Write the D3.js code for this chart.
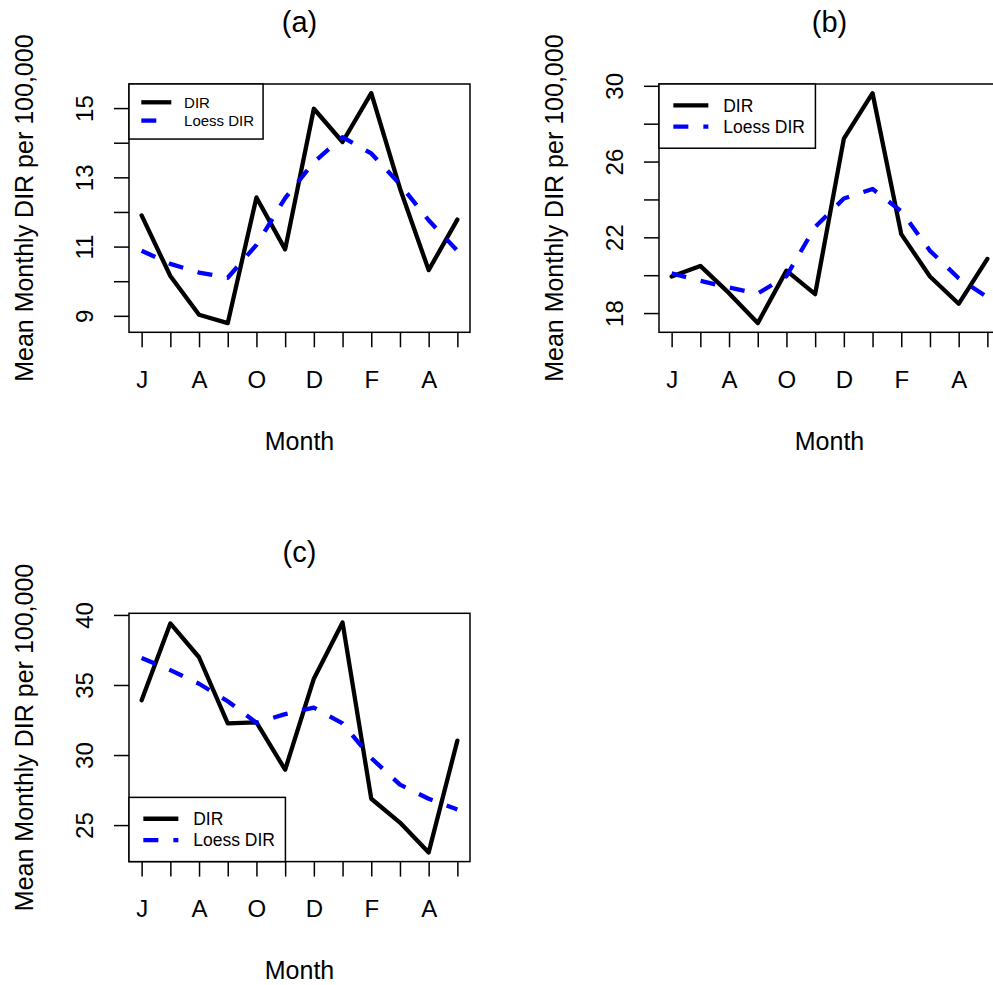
<!DOCTYPE html>
<html>
<head>
<meta charset="utf-8">
<script src="https://cdn.jsdelivr.net/npm/d3@7"></script>
<style>
  html, body { margin: 0; padding: 0; background: #fff; }
  svg { display: block; font-family: "Liberation Sans", Arial, Helvetica, sans-serif; }
</style>
</head>
<body>
<svg id="chart" width="993" height="985"></svg>
<script>
// Month labels (June to May) and their positions on the x axis
const months = ["J", "J", "A", "S", "O", "N", "D", "J", "F", "M", "A", "M"];
const monthIndex = d3.range(1, 13);

// Panel (a)
const dirA   = [11.90, 10.15, 9.03, 8.79, 12.42, 10.92, 14.98, 14.02, 15.43, 12.68, 10.32, 11.78];
const loessA = [10.88, 10.50, 10.25, 10.10, 11.05, 12.40, 13.44, 14.16, 13.69, 12.80, 11.76, 10.88];
const yTicksA = [9, 10, 11, 12, 13, 14, 15];

// Panel (b)
const dirB   = [19.93, 20.49, 19.05, 17.47, 20.24, 19.00, 27.21, 29.61, 22.17, 19.93, 18.49, 20.86];
const loessB = [20.10, 19.70, 19.35, 19.03, 19.95, 22.55, 24.05, 24.55, 23.38, 21.29, 19.84, 18.84];
const yTicksB = [18, 20, 22, 24, 26, 28, 30];

// Panel (c)
const dirC   = [33.91, 39.39, 36.98, 32.26, 32.33, 28.95, 35.45, 39.46, 26.88, 25.18, 23.05, 31.03];
const loessC = [36.93, 36.06, 35.09, 33.84, 32.30, 32.92, 33.39, 32.26, 29.78, 27.89, 26.88, 26.12];
const yTicksC = [25, 30, 35, 40];

const legendLabels = ["DIR", "Loess DIR"];
const xLabel = "Month";
const yLabel = "Mean Monthly DIR per 100,000";

const panels = [
  { title: "(a)", dir: dirA, loess: loessA, yTicks: yTicksA, col: 0, row: 0, legendPos: "topleft",    legendSize: 15 },
  { title: "(b)", dir: dirB, loess: loessB, yTicks: yTicksB, col: 1, row: 0, legendPos: "topleft",    legendSize: 17.5 },
  { title: "(c)", dir: dirC, loess: loessC, yTicks: yTicksC, col: 0, row: 1, legendPos: "bottomleft", legendSize: 17.5 }
];

// Layout of each figure cell (2 x 2 grid)
const figW = 530, figH = 529.3;
const mLeft = 129, mTop = 84, plotW = 341, plotH = 248.3;
const tickLen = 15;
const tickFont = 24, labFont = 25, titleFont = 29;
const lineW = 4.3;
const dash = "15,15";

const svg = d3.select("#chart");
svg.append("rect").attr("width", 993).attr("height", 985).attr("fill", "#fff");

// Text measurement helper
const measurer = svg.append("text").attr("visibility", "hidden");
function textWidth(str, size) {
  measurer.attr("font-size", size).text(str);
  return measurer.node().getComputedTextLength();
}

// Drop labels that would crowd their neighbours (gap of one "m")
function keptLabels(pixels, labels, size) {
  const gap = textWidth("m", size);
  const order = d3.range(pixels.length).sort((a, b) => pixels[a] - pixels[b]);
  const keep = new Set();
  let lastEdge = -Infinity;
  order.forEach(i => {
    const w = textWidth(labels[i], size);
    if (pixels[i] - w / 2 >= lastEdge + gap || lastEdge === -Infinity) {
      keep.add(i);
      lastEdge = pixels[i] + w / 2;
    }
  });
  return keep;
}

panels.forEach(p => {
  const ox = p.col * figW + mLeft;
  const oy = p.row * figH + mTop;
  const g = svg.append("g").attr("transform", `translate(${ox},${oy})`);

  const x = d3.scaleLinear()
    .domain([1 - 0.04 * 11, 12 + 0.04 * 11])
    .range([0, plotW]);

  const [lo, hi] = d3.extent(p.dir);
  const pad = (hi - lo) * 0.04;
  const y = d3.scaleLinear().domain([lo - pad, hi + pad]).range([plotH, 0]);

  // Series
  const line = d3.line().x((d, i) => x(monthIndex[i])).y(d => y(d));
  g.append("path").datum(p.dir)
    .attr("d", line).attr("fill", "none")
    .attr("stroke", "#000").attr("stroke-width", lineW)
    .attr("stroke-linejoin", "round").attr("stroke-linecap", "round");
  g.append("path").datum(p.loess)
    .attr("d", line).attr("fill", "none")
    .attr("stroke", "#0000ff").attr("stroke-width", lineW)
    .attr("stroke-dasharray", dash)
    .attr("stroke-linejoin", "round").attr("stroke-linecap", "butt");

  // Plot frame
  g.append("rect").attr("x", 0).attr("y", 0).attr("width", plotW).attr("height", plotH)
    .attr("fill", "none").attr("stroke", "#000").attr("stroke-width", 1.5);

  // X axis
  const xKeep = keptLabels(monthIndex.map(m => x(m)), months, tickFont);
  const xAxis = d3.axisBottom(x)
    .tickValues(monthIndex)
    .tickSize(tickLen)
    .tickFormat((d, i) => xKeep.has(i) ? months[i] : "");
  const gx = g.append("g").attr("transform", `translate(0,${plotH})`).call(xAxis);
  gx.select(".domain").remove();
  gx.selectAll(".tick line").attr("stroke", "#000").attr("stroke-width", 1.5);
  gx.selectAll(".tick text")
    .attr("y", 55.5).attr("dy", null)
    .attr("font-size", tickFont).attr("font-family", null).attr("fill", "#000");

  // Y axis (labels parallel to the axis)
  const yLabels = p.yTicks.map(String);
  const yKeep = keptLabels(p.yTicks.map(v => y(v)), yLabels, tickFont);
  const yAxis = d3.axisLeft(y)
    .tickValues(p.yTicks)
    .tickSize(tickLen)
    .tickFormat((d, i) => yKeep.has(i) ? yLabels[i] : "");
  const gy = g.append("g").call(yAxis);
  gy.select(".domain").remove();
  gy.selectAll(".tick line").attr("stroke", "#000").attr("stroke-width", 1.5);
  gy.selectAll(".tick text")
    .attr("transform", "rotate(-90)")
    .attr("x", 0).attr("y", -35.7).attr("dy", null)
    .attr("text-anchor", "middle")
    .attr("font-size", tickFont).attr("font-family", null).attr("fill", "#000");

  // Titles
  g.append("text").attr("x", plotW / 2).attr("y", -51.7)
    .attr("text-anchor", "middle").attr("font-size", titleFont).text(p.title);
  g.append("text").attr("x", plotW / 2).attr("y", plotH + 117.3)
    .attr("text-anchor", "middle").attr("font-size", labFont).text(xLabel);
  g.append("text")
    .attr("transform", `translate(${32.5 - mLeft},${plotH / 2}) rotate(-90)`)
    .attr("text-anchor", "middle").attr("font-size", labFont).text(yLabel);

  // Legend
  const fs = p.legendSize;
  const tw = d3.max(legendLabels, s => textWidth(s, fs));
  const boxW = 3.67 * fs + tw + 0.6 * fs;
  const boxH = 3.67 * fs;
  const bx = 0;
  const by = p.legendPos === "topleft" ? 0 : plotH - boxH;
  const lg = g.append("g").attr("transform", `translate(${bx},${by})`);
  lg.append("rect").attr("width", boxW).attr("height", boxH)
    .attr("fill", "#fff").attr("stroke", "#000").attr("stroke-width", 1.5);
  const styles = [
    { color: "#000", dash: null, cap: "butt" },
    { color: "#0000ff", dash: dash, cap: "butt" }
  ];
  legendLabels.forEach((lab, i) => {
    const ry = 1.22 * fs * (i + 1);
    lg.append("line")
      .attr("x1", 0.82 * fs).attr("x2", 0.82 * fs + 2 * fs)
      .attr("y1", ry).attr("y2", ry)
      .attr("stroke", styles[i].color).attr("stroke-width", lineW)
      .attr("stroke-dasharray", styles[i].dash)
      .attr("stroke-linecap", styles[i].cap);
    lg.append("text").attr("x", 3.67 * fs).attr("y", ry + 0.36 * fs)
      .attr("font-size", fs).text(lab);
  });
});

measurer.remove();
</script>
</body>
</html>
